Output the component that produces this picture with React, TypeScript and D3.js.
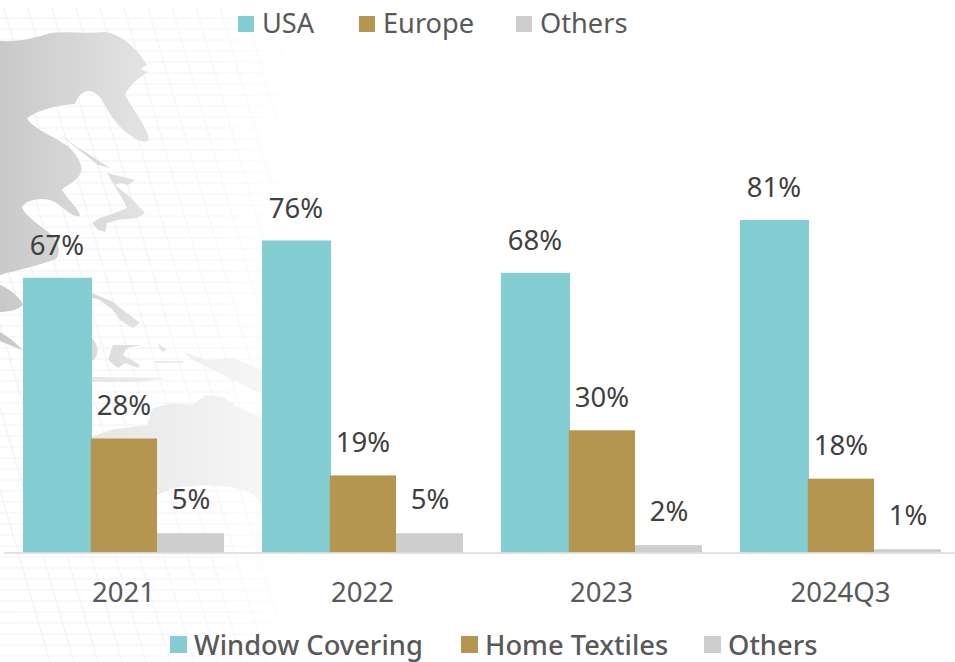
import React from "react";
import * as d3 from "d3";

const W = 955, H = 662;
const categories = ["2021", "2022", "2023", "2024Q3"];
const seriesNames = ["Window Covering", "Home Textiles", "Others"];
const windowCovering = [67.0, 76.1, 68.2, 81.1];
const homeTextiles = [27.8, 18.8, 29.8, 18.0];
const others = [4.7, 4.7, 1.8, 0.8];
const allSeries = [windowCovering, homeTextiles, others];
const colors = ["#84cdd2", "#b49650", "#cfcdce"];
const topLegend = ["USA", "Europe", "Others"];

const FONT = "'Noto Sans', 'Open Sans', sans-serif";
const baseY = 552.5;

const x0 = d3.scaleBand<string>().domain(categories).range([23, 23 + 239 * 4]).paddingInner(0).paddingOuter(0).align(0);
const x1 = d3.scaleBand<number>().domain([0, 1, 2]).range([0, 201]);
const y = d3.scaleLinear().domain([0, 100]).range([baseY, baseY - 410]);
const fmt = (v: number) => `${Math.round(v)}%`;

const land = [
  "M0,41 C20,42 35,38 50,33 C65,31 85,34 105,32 C122,34 138,50 147,65 L140,69 L148,72 C140,77 130,84 125,95 C132,108 148,128 149,140 C142,146 125,134 112,117 C104,105 102,94 90,91 C82,91 78,96 75,104 C58,105 38,110 27,118 C30,126 50,135 68,146 C78,156 83,165 81,172 C78,182 64,186 62,190 C68,200 80,210 80,216 C72,219 62,204 50,200 C38,197 24,201 22,208 C26,216 38,224 48,232 C58,240 62,250 56,259 C40,265 18,270 0,275 Z",
  "M57,132 L77,147 L93,157 L110,168 L98,165 L83,153 Z",
  "M107,173 L135,180 L128,185 L120,183 L115,185 L130,197 L145,213 L137,218 L117,220 L107,223 L105,232 L98,230 L92,223 L100,218 L115,213 L127,208 L123,200 Z",
  "M0,285 C12,290 22,300 23,305 C18,310 8,312 0,312 Z",
  "M92,293 L113,302 L123,310 L140,323 L133,328 L120,320 L113,310 L100,300 L92,298 Z",
  "M0,332 L12,340 L24,351 L12,346 L0,341 Z",
  "M92,338 C98,345 100,352 94,360 L92,360 Z",
  "M113,345 L142,345 L127,348 L123,355 L140,365 L138,368 L125,363 L118,368 L108,360 Z",
  "M157,343 L167,350 L162,352 Z",
];
const pale = [
  "M92,437 L110,430 L147,425 L153,408 L173,403 L193,405 L205,395 L223,397 L240,408 L262,418 L262,503 L250,492 L230,487 L203,485 L173,488 L157,495 L92,500 Z",
  "M183,352 L207,360 L233,358 L262,370 L262,392 L253,390 L233,380 L213,370 L193,360 Z",
  "M92,377 L166,378 L140,382 L92,382 Z",
  "M155,361 L183,361 L183,363 L155,363 Z",
];

const hLines = d3.range(0, 60).map((i) => 18 + i * 11);
const vLines = d3.range(0, 18).map((i) => -140 + i * 24);

export default function App() {
  return (
    <svg width={W} height={H} style={{ position: "absolute", left: 0, top: 0, background: "#fff" }} fontFamily={FONT}>
      <defs>
        <linearGradient id="fade" gradientUnits="userSpaceOnUse" x1="0" x2="150" y1="0" y2="0">
          <stop offset="0" stopColor="#c9c9c9" />
          <stop offset="1" stopColor="#e4e4e4" />
        </linearGradient>
        <linearGradient id="paleFade" gradientUnits="userSpaceOnUse" x1="90" x2="262" y1="0" y2="0">
          <stop offset="0" stopColor="#e6e6e6" />
          <stop offset="1" stopColor="#f6f6f6" />
        </linearGradient>
        <linearGradient id="gridfade" gradientUnits="userSpaceOnUse" x1="0" x2="310" y1="0" y2="0">
          <stop offset="0" stopColor="#f0f0fa" stopOpacity="1" />
          <stop offset="0.7" stopColor="#f3f3fb" stopOpacity="0.8" />
          <stop offset="1" stopColor="#f3f3fb" stopOpacity="0" />
        </linearGradient>
      </defs>
      <g stroke="url(#gridfade)" strokeWidth={1.2} fill="none">
        {hLines.map((v) => (
          <line key={v} x1={0} x2={310} y1={v} y2={v} />
        ))}
        {vLines.map((v) => (
          <line key={v} x1={v} x2={v + 190} y1={8} y2={662} />
        ))}
      </g>
      {land.map((d, i) => (
        <path key={i} d={d} fill="url(#fade)" />
      ))}
      {pale.map((d, i) => (
        <path key={i} d={d} fill="url(#paleFade)" />
      ))}

      {categories.map((c, ci) => (
        <g key={c}>
          {allSeries.map((vals, si) => {
            const bw = x1.bandwidth();
            const bx = (x0(c) as number) + (x1(si) as number) + (si === 1 ? 0.8 : 0);
            const w = si === 0 ? bw + 2 : si === 1 ? bw - 0.8 : bw;
            return (
              <rect key={si} x={bx} y={y(vals[ci])} width={w} height={baseY - y(vals[ci])} fill={colors[si]} />
            );
          })}
          {allSeries.map((vals, si) => {
            const cx = (x0(c) as number) + (x1(si) as number) + x1.bandwidth() / 2 + 0.5;
            const ty = y(vals[ci]) - [22.5, 23.5, 24][si];
            return (
              <text key={si} x={cx} y={ty} textAnchor="middle" fontSize={27.5} fill="#404040">
                {fmt(vals[ci])}
              </text>
            );
          })}
          <text x={(x0(c) as number) + 100.5} y={602} textAnchor="middle" fontSize={27.5} fill="#595959">
            {c}
          </text>
        </g>
      ))}
      <line x1={4} x2={955} y1={553} y2={553} stroke="#d9d9d9" strokeWidth={1.5} />

      {topLegend.map((t, i) => {
        const lx = [238, 359, 516][i];
        return (
          <g key={t}>
            <rect x={lx} y={16} width={16} height={16} fill={colors[i]} />
            <text x={lx + 24} y={33} fontSize={27.2} fill="#595959">{t}</text>
          </g>
        );
      })}
      {seriesNames.map((t, i) => {
        const lx = [170, 461, 704][i];
        return (
          <g key={t}>
            <rect x={lx} y={636} width={17} height={17} fill={colors[i]} />
            <text x={lx + 24} y={655} fontSize={27.3} fontWeight={500} fill="#595959">{t}</text>
          </g>
        );
      })}
    </svg>
  );
}
